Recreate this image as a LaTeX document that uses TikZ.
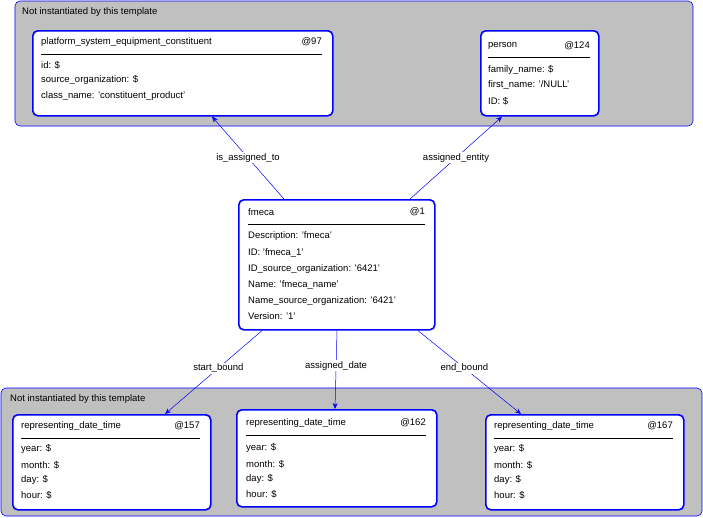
\documentclass[tikz,border=0pt]{standalone}
\usepackage{fontspec}
\setmainfont{Liberation Sans}
\usetikzlibrary{arrows.meta}
\definecolor{grp}{RGB}{192,192,192}
\definecolor{bl}{RGB}{0,0,255}
\begin{document}
\begin{tikzpicture}[x=1pt,y=-1pt,
  font=\fontsize{9.5}{11}\selectfont,
  group/.style={draw=bl,fill=grp,rounded corners=5pt,line width=0.6pt},
  box/.style={draw=bl,fill=white,rounded corners=5pt,line width=1.6pt},
  txt/.style={anchor=west,inner sep=0pt},
  rt/.style={anchor=east,inner sep=0pt},
  sep/.style={line width=0.6pt},
  conn/.style={draw=bl,line width=0.5pt,-{Stealth[length=6pt,width=5pt]}},
  lbl/.style={fill=white,inner sep=1pt}]
\useasboundingbox (0,0) rectangle (703,517);
% groups
\draw[group] (15,1) rectangle (693,126);
\node[txt] (g1) at (22,12) {Not instantiated by this template};
\draw[group] (1,388) rectangle (702,516);
\node[txt] (g2) at (10,399) {Not instantiated by this template};
% platform
\node[box,anchor=north west,minimum width=300,minimum height=85,inner sep=0pt] (plat) at (32,30) {};
\node[txt] (p0) at (41,42) {platform\_system\_equipment\_constituent};
\node[rt] (p1) at (322,42) {@97};
\draw[sep] (41,54) -- (322,54);
\node[txt] (p2) at (41,65) {id: \$};
\node[txt] (p3) at (41,80) {source\_organization: \$};
\node[txt] (p4) at (41,96) {class\_name: 'constituent\_product'};
% person
\node[box,anchor=north west,minimum width=118,minimum height=85,inner sep=0pt] (pers) at (480,30) {};
\node[txt] (q0) at (488,46) {person};
\node[rt] (q1) at (590,46) {@124};
\draw[sep] (488,57) -- (590,57);
\node[txt] (q2) at (488,70) {family\_name: \$};
\node[txt] (q3) at (488,85) {first\_name: '/NULL'};
\node[txt] (q4) at (488,101) {ID: \$};
% fmeca
\node[box,anchor=north west,minimum width=196,minimum height=130,inner sep=0pt] (fm) at (238,199) {};
\node[txt] (f0) at (248,212) {fmeca};
\node[rt] (f1) at (425,212) {@1};
\draw[sep] (248,224) -- (425,224);
\node[txt] (f2) at (248,236) {Description: 'fmeca'};
\node[txt] (f3) at (248,253) {ID: 'fmeca\_1'};
\node[txt] (f4) at (248,269) {ID\_source\_organization: '6421'};
\node[txt] (f5) at (248,285) {Name: 'fmeca\_name'};
\node[txt] (f6) at (248,301) {Name\_source\_organization: '6421'};
\node[txt] (f7) at (248,316) {Version: '1'};
% rdt157
\node[box,anchor=north west,minimum width=198,minimum height=95,inner sep=0pt] (r1) at (12,414) {};
\node[txt] (a0) at (21,426) {representing\_date\_time};
\node[rt] (a1) at (200,426) {@157};
\draw[sep] (21,438) -- (200,438);
\node[txt] (a2) at (21,449) {year: \$};
\node[txt] (a3) at (21,465) {month: \$};
\node[txt] (a4) at (21,480) {day: \$};
\node[txt] (a5) at (21,495) {hour: \$};
% rdt162
\node[box,anchor=north west,minimum width=200,minimum height=97,inner sep=0pt] (r2) at (236,409) {};
\node[txt] (b0) at (246,423) {representing\_date\_time};
\node[rt] (b1) at (426,423) {@162};
\draw[sep] (246,435) -- (426,435);
\node[txt] (b2) at (246,448) {year: \$};
\node[txt] (b3) at (246,464) {month: \$};
\node[txt] (b4) at (246,479) {day: \$};
\node[txt] (b5) at (246,494) {hour: \$};
% rdt167
\node[box,anchor=north west,minimum width=198,minimum height=95,inner sep=0pt] (r3) at (485,414) {};
\node[txt] (c0) at (494,426) {representing\_date\_time};
\node[rt] (c1) at (673,426) {@167};
\draw[sep] (494,438) -- (673,438);
\node[txt] (c2) at (494,449) {year: \$};
\node[txt] (c3) at (494,465) {month: \$};
\node[txt] (c4) at (494,480) {day: \$};
\node[txt] (c5) at (494,495) {hour: \$};
% connectors
\draw[conn] ([xshift=46pt]fm.north west) -- node[lbl,pos=0.5]{is\_assigned\_to} ([xshift=180pt]plat.south west);
\draw[conn] ([xshift=172pt]fm.north west) -- node[lbl,pos=0.5]{assigned\_entity} ([xshift=22pt]pers.south west);
\draw[conn] ([xshift=24pt]fm.south west) -- node[lbl,pos=0.45]{start\_bound} ([xshift=153pt]r1.north west);
\draw[conn] ([xshift=99pt]fm.south west) -- node[lbl,pos=0.45]{assigned\_date} ([xshift=99pt]r2.north west);
\draw[conn] ([xshift=180pt]fm.south west) -- node[lbl,pos=0.45]{end\_bound} ([xshift=36pt]r3.north west);
\end{tikzpicture}
\end{document}
